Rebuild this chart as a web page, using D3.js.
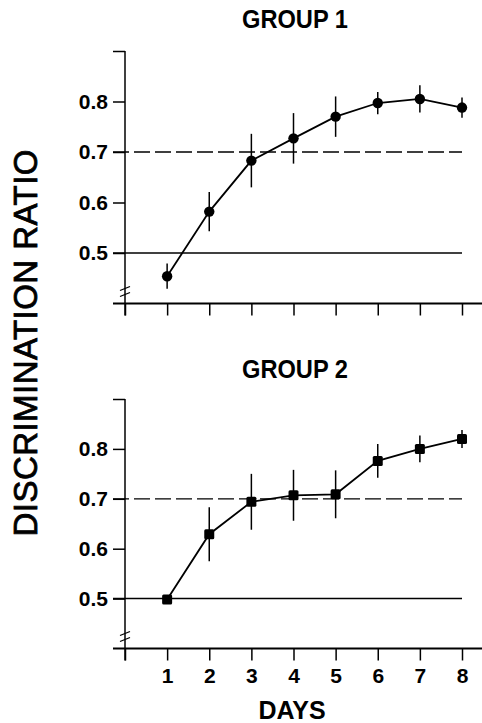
<!DOCTYPE html>
<html lang="en">
<head>
	<meta charset="utf-8">
	<title>Discrimination ratio</title>
<style>
body {
	margin: 0;
	background-color: #fff;
}
svg text {
	font-family: "Liberation Sans", Arial, sans-serif;
	fill: #000;
}
.tick-label {
	font-size: 21px;
	font-weight: bold;
}
.title {
	font-size: 25px;
	font-weight: bold;
}
</style>
</head>
<body>
<div id="chart"></div>
<script src="https://d3js.org/d3.v7.min.js"></script>
<script>
	var days = [1, 2, 3, 4, 5, 6, 7, 8];
	var group1Mean = [0.454, 0.582, 0.683, 0.727, 0.770, 0.797, 0.805, 0.788];
	var group1Err = [0.025, 0.039, 0.053, 0.050, 0.040, 0.022, 0.027, 0.020];
	var group2Mean = [0.498, 0.629, 0.694, 0.707, 0.709, 0.776, 0.800, 0.820];
	var group2Err = [0.000, 0.054, 0.056, 0.051, 0.048, 0.034, 0.027, 0.018];
	var yTicks = [0.5, 0.6, 0.7, 0.8, 0.9];
	var xTicks = [0, 1, 2, 3, 4, 5, 6, 7, 8];

	var width = 482, height = 723;

	var svg = d3.select("#chart").append("svg")
		.attr("width", width)
		.attr("height", height);

	var x = d3.scaleLinear().domain([0, 8]).range([125, 462]);

	// y label, shared by both panels
	svg.append("text")
		.attr("transform", "translate(37,343) rotate(-90)")
		.attr("text-anchor", "middle")
		.attr("textLength", 387)
		.attr("lengthAdjust", "spacing")
		.style("font-size", "33px")
		.style("stroke", "#000")
		.style("stroke-width", 0.8)
		.text("DISCRIMINATION RATIO");

	function panel(top, bottom, title, titleY, means, errs, marker, showXLabels) {
		var y = d3.scaleLinear().domain([0.4, 0.9]).range([bottom, top]);
		var g = svg.append("g");

		g.append("text").attr("class", "title")
			.attr("x", 295).attr("y", titleY)
			.attr("text-anchor", "middle")
			.attr("textLength", 106)
			.attr("lengthAdjust", "spacingAndGlyphs")
			.text(title);

		// reference lines
		g.append("line")
			.attr("x1", 113).attr("x2", x(8))
			.attr("y1", y(0.5)).attr("y2", y(0.5))
			.attr("stroke", "#000").attr("stroke-width", 1.5);
		g.append("line")
			.attr("x1", 113).attr("x2", x(8))
			.attr("y1", y(0.7)).attr("y2", y(0.7))
			.attr("stroke", "#000").attr("stroke-width", 1.3)
			.attr("stroke-dasharray", "16,5");

		// y axis
		var yAxis = g.append("g")
			.attr("transform", "translate(" + x(0) + ",0)")
			.call(d3.axisLeft(y).tickValues(yTicks).tickSize(12).tickSizeOuter(0)
				.tickFormat(function(d) { return d === 0.9 ? "" : d.toFixed(1); }));
		yAxis.select(".domain").remove();
		yAxis.selectAll("line").attr("stroke-width", 1.5);
		yAxis.selectAll("text").attr("class", "tick-label").attr("x", -17)
			.style("font-size", null).style("font-family", null);
		g.append("line")
			.attr("x1", x(0)).attr("x2", x(0))
			.attr("y1", y(0.9)).attr("y2", bottom + 12)
			.attr("stroke", "#000").attr("stroke-width", 1.5);

		// axis break
		[-3, 3].forEach(function(off) {
			g.append("line")
				.attr("x1", x(0) - 5).attr("x2", x(0) + 5)
				.attr("y1", bottom - 12 + off + 2).attr("y2", bottom - 12 + off - 2)
				.attr("stroke", "#000").attr("stroke-width", 1.3);
		});

		// x axis
		var xAxis = g.append("g")
			.attr("transform", "translate(0," + bottom + ")")
			.call(d3.axisBottom(x).tickValues(xTicks).tickSize(12).tickSizeOuter(0)
				.tickFormat(function(d) { return showXLabels && d > 0 ? d : ""; }));
		xAxis.select(".domain").remove();
		xAxis.selectAll("line").attr("stroke-width", 1.5);
		xAxis.selectAll("text").attr("class", "tick-label").attr("y", 20)
			.style("font-size", null).style("font-family", null);
		g.append("line")
			.attr("x1", 113).attr("x2", width)
			.attr("y1", bottom).attr("y2", bottom)
			.attr("stroke", "#000").attr("stroke-width", 1.8);

		// error bars
		g.selectAll(".err").data(days).enter().append("line")
			.attr("x1", function(d) { return x(d); })
			.attr("x2", function(d) { return x(d); })
			.attr("y1", function(d, i) { return y(means[i] - errs[i]); })
			.attr("y2", function(d, i) { return y(means[i] + errs[i]); })
			.attr("stroke", "#000").attr("stroke-width", 1.5);

		// data line
		var line = d3.line()
			.x(function(d) { return x(d); })
			.y(function(d, i) { return y(means[i]); });
		g.append("path").datum(days)
			.attr("d", line)
			.attr("fill", "none")
			.attr("stroke", "#000").attr("stroke-width", 1.8);

		if (marker === "circle") {
			g.selectAll(".pt").data(days).enter().append("circle")
				.attr("cx", function(d) { return x(d); })
				.attr("cy", function(d, i) { return y(means[i]); })
				.attr("r", 5.2)
				.attr("fill", "#000");
		} else {
			g.selectAll(".pt").data(days).enter().append("rect")
				.attr("x", function(d) { return x(d) - 5; })
				.attr("y", function(d, i) { return y(means[i]) - 5; })
				.attr("width", 10).attr("height", 10)
				.attr("rx", 1.5)
				.attr("fill", "#000");
		}
	}

	panel(51, 303.5, "GROUP 1", 28, group1Mean, group1Err, "circle", false);
	panel(399, 648.5, "GROUP 2", 378, group2Mean, group2Err, "square", true);

	svg.append("text").attr("class", "title")
		.attr("x", 292).attr("y", 719)
		.attr("text-anchor", "middle")
		.text("DAYS");
</script>
</body>
</html>
